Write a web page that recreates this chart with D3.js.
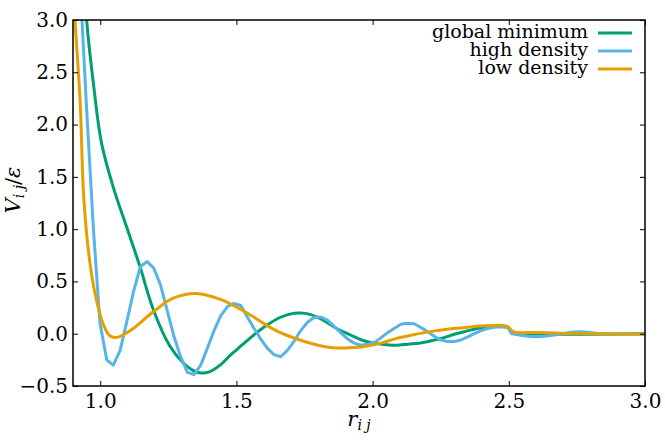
<!DOCTYPE html>
<html>
<head>
<meta charset="utf-8">
<script src="https://cdn.jsdelivr.net/npm/d3@7"></script>
<style>
  body { margin: 0; background: #fff; }
</style>
</head>
<body>
<svg id="chart"></svg>
<script>
// series: [r, V]
var globalMin = [[0.940,3.4],[0.950,3.0],[0.975,2.39],[1.005,1.82],[1.048,1.40],[1.097,1.02],[1.146,0.64],[1.195,0.23],
  [1.256,-0.12],[1.305,-0.28],[1.34,-0.35],[1.37,-0.375],[1.40,-0.365],[1.44,-0.30],[1.48,-0.20],[1.52,-0.11],
  [1.56,-0.02],[1.611,0.08],[1.66,0.155],[1.70,0.19],[1.735,0.197],[1.77,0.185],[1.819,0.13],[1.868,0.05],[1.917,-0.01],
  [1.96,-0.06],[2.003,-0.09],[2.05,-0.105],[2.088,-0.11],[2.13,-0.10],[2.174,-0.09],[2.22,-0.065],[2.259,-0.04],
  [2.30,-0.005],[2.345,0.025],[2.394,0.055],[2.44,0.065],[2.492,0.067],[2.517,0.013],[2.60,0.0],[2.688,-0.005],
  [2.80,-0.005],[3.0,0.0]]

var highDensity = [[0.925,3.4],[0.950,2.15],[0.975,1.0],[0.999,0.10],[1.024,-0.25],[1.048,-0.30],[1.073,-0.16],
  [1.098,0.12],[1.122,0.40],[1.147,0.64],[1.172,0.69],[1.196,0.63],[1.221,0.47],[1.246,0.22],[1.270,-0.02],
  [1.295,-0.22],[1.320,-0.37],[1.344,-0.39],[1.369,-0.30],[1.393,-0.14],[1.418,0.03],[1.442,0.17],[1.467,0.26],
  [1.491,0.29],[1.516,0.27],[1.540,0.16],[1.565,0.05],[1.589,-0.05],[1.614,-0.14],[1.638,-0.20],[1.663,-0.22],
  [1.687,-0.16],[1.712,-0.07],[1.736,0.03],[1.761,0.11],[1.785,0.155],[1.810,0.16],[1.834,0.13],[1.859,0.07],
  [1.883,0.01],[1.908,-0.05],[1.932,-0.09],[1.957,-0.11],[1.981,-0.10],[2.006,-0.085],[2.030,-0.04],[2.055,0.01],
  [2.079,0.05],[2.104,0.09],[2.128,0.10],[2.153,0.095],[2.177,0.06],[2.202,0.02],[2.226,-0.025],[2.251,-0.06],
  [2.275,-0.075],[2.300,-0.075],[2.324,-0.06],[2.349,-0.03],[2.373,0.0],[2.398,0.03],[2.422,0.05],[2.447,0.065],
  [2.471,0.065],[2.496,0.06],[2.51,0.0],[2.545,-0.015],[2.57,-0.025],[2.60,-0.03],[2.63,-0.025],[2.66,-0.015],
  [2.70,0.0],[2.73,0.015],[2.76,0.02],[2.79,0.015],[2.82,0.005],[2.86,-0.005],[2.90,-0.005],[2.95,0.0],[3.0,0.0]]

var lowDensity = [[0.900,3.3],[0.907,3.0],[0.926,2.23],[0.940,1.28],[0.962,0.68],[0.983,0.36],[1.011,0.09],
  [1.035,-0.02],[1.06,-0.035],[1.085,-0.01],[1.121,0.05],[1.195,0.21],[1.268,0.34],[1.354,0.385],[1.44,0.33],
  [1.489,0.27],[1.538,0.20],[1.611,0.08],[1.67,0.0],[1.733,-0.06],[1.80,-0.11],[1.856,-0.135],[1.91,-0.135],
  [1.966,-0.125],[2.03,-0.09],[2.088,-0.045],[2.15,-0.01],[2.211,0.02],[2.28,0.045],[2.345,0.06],[2.394,0.073],
  [2.492,0.073],[2.517,0.02],[2.60,0.012],[2.688,0.005],[2.85,0.0],[3.0,-0.005]]

var xTicks = [1.0, 1.5, 2.0, 2.5, 3.0]
var yTicks = [-0.5, 0.0, 0.5, 1.0, 1.5, 2.0, 2.5, 3.0]
var seriesNames = ["global minimum", "high density", "low density"]
var seriesColors = ["#009E73", "#56B4E9", "#E69F00"]

var serif = "'DejaVu Serif', serif"

var dimensions = {
  width: 665,
  height: 441,
  margin: { top: 20, bottom: 55, right: 20, left: 73 }
}

var svg = d3.select("#chart")
  .attr("width", dimensions.width)
  .attr("height", dimensions.height)
  .style("font-family", serif)

var x0 = dimensions.margin.left, x1 = dimensions.width - dimensions.margin.right
var y0 = dimensions.height - dimensions.margin.bottom, y1 = dimensions.margin.top

var xScale = d3.scaleLinear().domain([0.9, 3.0]).range([x0, x1])
var yScale = d3.scaleLinear().domain([-0.5, 3.0]).range([y0, y1])

svg.append("clipPath").attr("id", "plotclip")
  .append("rect").attr("x", x0).attr("y", y1).attr("width", x1 - x0).attr("height", y0 - y1)

var smooth = d3.line().x(d => xScale(d[0])).y(d => yScale(d[1])).curve(d3.curveCatmullRom.alpha(0.5))
var straight = d3.line().x(d => xScale(d[0])).y(d => yScale(d[1]))

var lines = svg.append("g").attr("clip-path", "url(#plotclip)")
lines.append("path").datum(globalMin).attr("d", smooth)
  .attr("fill", "none").attr("stroke", seriesColors[0]).attr("stroke-width", 3)
lines.append("path").datum(highDensity).attr("d", straight)
  .attr("fill", "none").attr("stroke", seriesColors[1]).attr("stroke-width", 3).attr("stroke-linejoin", "round")
lines.append("path").datum(lowDensity).attr("d", smooth)
  .attr("fill", "none").attr("stroke", seriesColors[2]).attr("stroke-width", 3)

// axes: ticks inward on all four sides
var xAxis = svg.append("g").attr("transform", `translate(0,${y0})`)
  .call(d3.axisBottom(xScale).tickValues(xTicks).tickSizeInner(-5).tickSizeOuter(0).tickPadding(8).tickFormat(d3.format(".1f")))
var xAxisTop = svg.append("g").attr("transform", `translate(0,${y1})`)
  .call(d3.axisTop(xScale).tickValues(xTicks).tickSizeInner(-5).tickSizeOuter(0).tickFormat(""))
var yAxis = svg.append("g").attr("transform", `translate(${x0},0)`)
  .call(d3.axisLeft(yScale).tickValues(yTicks).tickSizeInner(-5).tickSizeOuter(0).tickPadding(5)
    .tickFormat(d => d < 0 ? "\u2212" + d3.format(".1f")(-d) : d3.format(".1f")(d)))
var yAxisRight = svg.append("g").attr("transform", `translate(${x1},0)`)
  .call(d3.axisRight(yScale).tickValues(yTicks).tickSizeInner(-5).tickSizeOuter(0).tickFormat(""))

svg.selectAll(".domain").remove()
svg.selectAll("g").attr("font-family", null).attr("font-size", null)
svg.selectAll(".tick line").attr("stroke", "#000").attr("stroke-width", 1)
svg.selectAll(".tick text").style("font-family", serif).style("font-size", "20px").attr("fill", "#000")

svg.append("rect").attr("x", x0).attr("y", y1).attr("width", x1 - x0).attr("height", y0 - y1)
  .attr("fill", "none").attr("stroke", "#000").attr("stroke-width", 1.5)

// legend
var legend = svg.append("g")
seriesNames.forEach((name, i) => {
  var by = 38 + i * 18
  legend.append("text").attr("x", 588).attr("y", by).attr("text-anchor", "end")
    .style("font-family", serif).style("font-size", "19px").text(name)
  legend.append("line").attr("x1", 598).attr("x2", 632).attr("y1", by - 5).attr("y2", by - 5)
    .attr("stroke", seriesColors[i]).attr("stroke-width", 3)
})

// axis labels
var xl = svg.append("text").attr("x", (x0 + x1) / 2).attr("y", 426).attr("text-anchor", "middle")
  .style("font-family", serif).style("font-size", "21px")
xl.append("tspan").style("font-style", "italic").text("r")
xl.append("tspan").style("font-style", "italic").style("font-size", "14px").attr("dy", 4).text("i j")

var yl = svg.append("text").attr("transform", "translate(20,190) rotate(-90)").attr("text-anchor", "middle")
  .style("font-family", serif).style("font-size", "21px")
yl.append("tspan").style("font-style", "italic").text("V")
yl.append("tspan").style("font-style", "italic").style("font-size", "14px").attr("dy", 4).text("i j")
yl.append("tspan").attr("dy", -4).text("/")
yl.append("tspan").style("font-style", "italic").text("ε")
</script>
</body>
</html>
